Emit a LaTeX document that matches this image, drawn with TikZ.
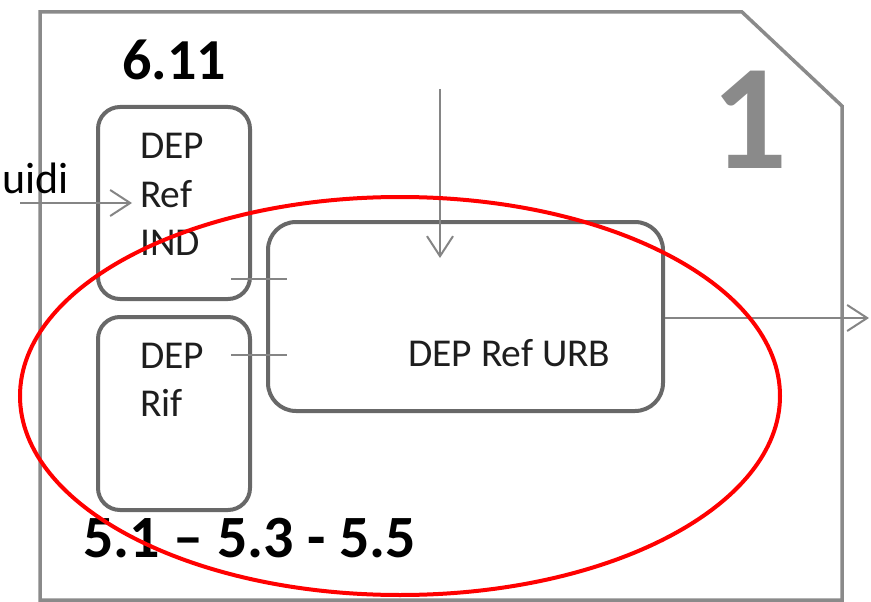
\documentclass[tikz,border=0pt]{standalone}
\usepackage{fontspec}
\setmainfont{Carlito}
\usetikzlibrary{arrows.meta}
\definecolor{framegray}{HTML}{8A8A8A}
\definecolor{boxgray}{HTML}{686868}
\definecolor{arrgray}{HTML}{858585}
\definecolor{txt}{HTML}{1E1E1E}
\tikzset{
  frameline/.style={draw=framegray, line width=3.5pt, line join=miter},
  roundbox/.style={draw=boxgray, line width=4pt, rounded corners=#1, inner sep=0pt},
  boxtext/.style={font=\fontsize{39.5}{48.5}\selectfont, text=txt, inner sep=0pt, align=left},
  bigtext/.style={font=\bfseries\fontsize{58}{60}\selectfont, text=black, inner sep=0pt},
  flow/.style={draw=arrgray, line width=2pt, -{Straight Barb[length=20pt,width=26pt,line width=2pt]}},
  tick/.style={draw=arrgray, line width=2pt},
  ring/.style={draw=red, line width=4pt}
}
\begin{document}
\begin{tikzpicture}[x=1pt,y=-1pt]
\useasboundingbox (0,0) rectangle (871,602);
% outer frame
\draw[frameline] (40,12) -- (742,12) -- (842,106) -- (842,600) -- (40,600) -- cycle;
% big number
\node[anchor=base, inner sep=0pt, text=framegray, font=\bfseries\fontsize{150}{150}\selectfont] (num) at (750,168) {1};
% boxes
\node[roundbox=22pt, minimum width=152pt, minimum height=192pt] (ind) at (174,203) {};
\node[roundbox=22pt, minimum width=152pt, minimum height=193pt] (rif) at (174,413.5) {};
\node[roundbox=28pt, minimum width=395pt, minimum height=189pt] (urb) at (465.5,316.5) {};
% texts
\node[boxtext, anchor=base west] (indt1) at (140,158) {DEP};
\node[boxtext, anchor=base west] (indt2) at (140,207) {Ref};
\node[boxtext, anchor=base west] (indt3) at (140,255) {IND};
\node[boxtext, anchor=base west] (rift1) at (140,368) {DEP};
\node[boxtext, anchor=base west] (rift2) at (140,416) {Rif};
\node[boxtext, anchor=base west] (urbt) at (408,366) {DEP Ref URB};
\node[bigtext, anchor=base west] (lab1) at (122,80) {6.11};
\node[bigtext, anchor=base west, font=\bfseries\fontsize{60}{62}\selectfont] (lab2) at (83,557) {5.1 – 5.3 - 5.5};
\node[font=\fontsize{44}{48}\selectfont, text=black, inner sep=0pt, anchor=base east] (src) at (69,193) {uidi};
% connectors
\coordinate (inS) at (20,203);
\coordinate (inE) at (132,203);
\draw[flow] (inS) -- (inE);
\coordinate (dnS) at (440,89);
\coordinate (dnE) at (440,258);
\draw[flow] (dnS) -- (dnE);
\coordinate (outS) at (urb.east |- 0,318);
\coordinate (outE) at (869,318);
\draw[flow] (outS) -- (outE);
\coordinate (t1a) at (231,279);
\coordinate (t1b) at (287,279);
\draw[tick] (t1a) -- (t1b);
\coordinate (t2a) at (231,355);
\coordinate (t2b) at (287,355);
\draw[tick] (t2a) -- (t2b);
% red ellipse
\draw[ring] (400,396) ellipse [x radius=380, y radius=199];
\end{tikzpicture}
\end{document}
